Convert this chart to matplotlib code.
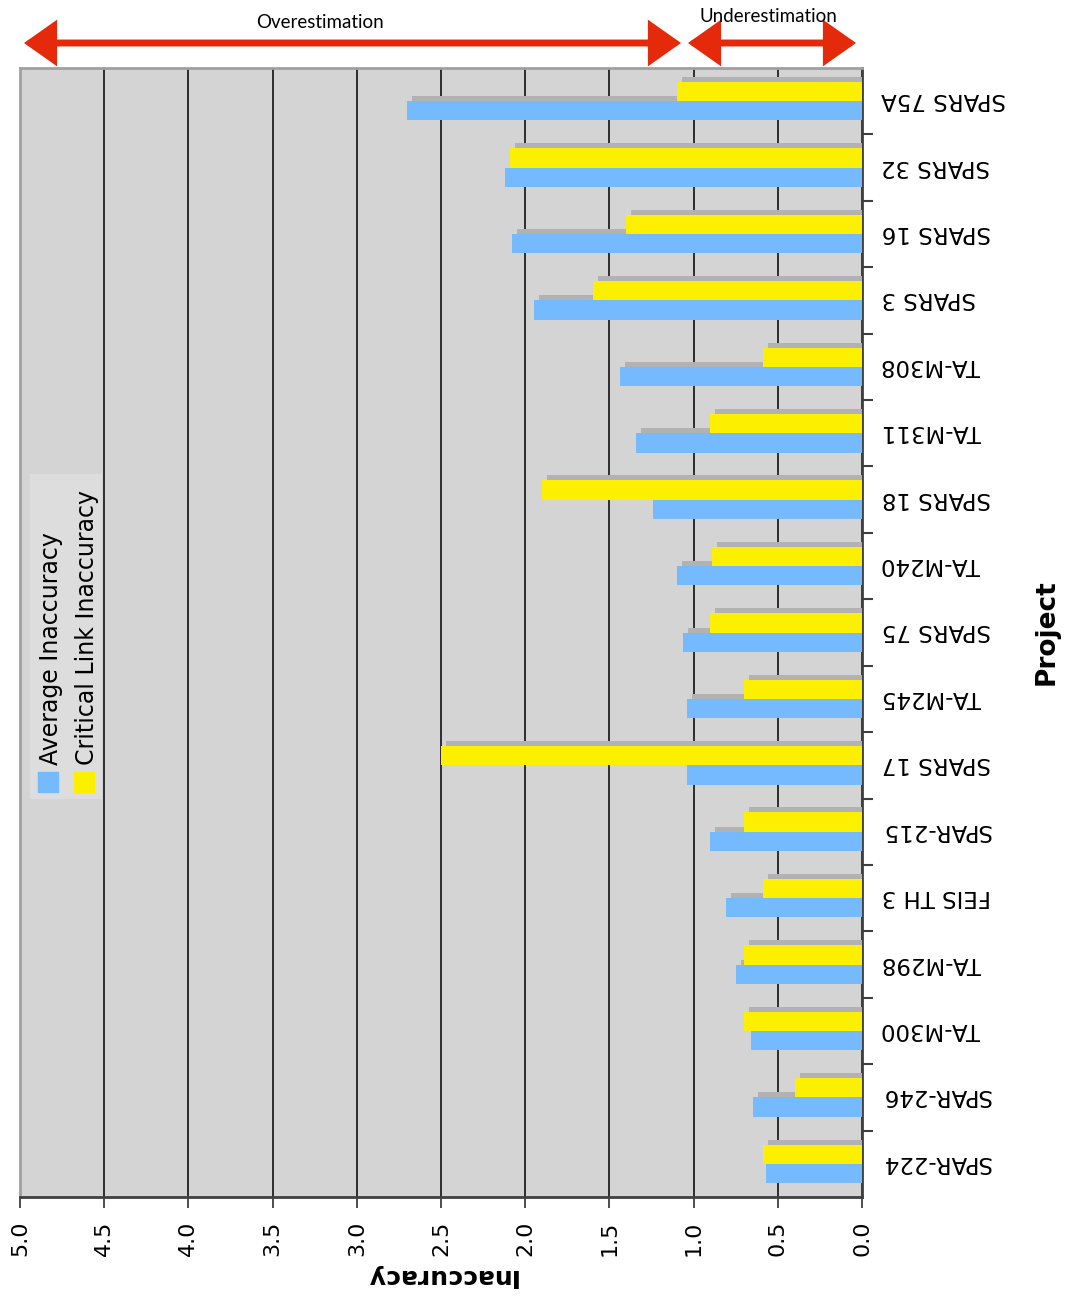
import matplotlib.pyplot as plt
import matplotlib.patches as mpatches
import matplotlib.patheffects as pe
import matplotlib.transforms as mtransforms

projects = ['SPARS 75A', 'SPARS 32', 'SPARS 16', 'SPARS 3', 'TA-M308', 'TA-M311',
            'SPARS 18', 'TA-M240', 'SPARS 75', 'TA-M245', 'SPARS 17', 'SPAR-215',
            'FEIS TH 3', 'TA-M298', 'TA-M300', 'SPAR-246', 'SPAR-224']
average = [2.70, 2.12, 2.08, 1.95, 1.44, 1.34, 1.24, 1.10, 1.06, 1.04, 1.04,
           0.90, 0.81, 0.75, 0.66, 0.65, 0.57]
critical = [1.10, 2.09, 1.40, 1.60, 0.59, 0.90, 1.90, 0.89, 0.90, 0.70, 2.50,
            0.70, 0.59, 0.70, 0.70, 0.40, 0.59]

W, H = 1065, 1307
BLUE = '#75baff'
YELLOW = '#fcf000'
RED = '#e52a0b'


def fx(px):
    return px / W


def fy(py):
    return 1 - py / H


fig = plt.figure(figsize=(W / 100, H / 100), dpi=100)
ax = fig.add_axes([fx(20), fy(1197), fx(862 - 20), (1197 - 68) / H])
ax.set_facecolor('#d4d4d4')

shadow = [pe.SimplePatchShadow(offset=(3.6, 3.6), shadow_rgbFace='#b2b2b2', alpha=1.0),
          pe.Normal()]
ypos = list(range(len(projects)))
bh = 0.29
ax.barh([y + bh / 2 for y in ypos], average, height=bh, color=BLUE,
        zorder=3, path_effects=shadow)
ax.barh([y - bh / 2 for y in ypos], critical, height=bh, color=YELLOW,
        zorder=3, path_effects=shadow)

ax.set_xlim(5, 0)
ax.set_ylim(len(projects) - 0.5, -0.5)
ax.set_xticks([i * 0.5 for i in range(11)])
ax.set_xticklabels([f'{i * 0.5:.1f}' for i in range(11)], rotation=90, fontsize=16)
ax.set_yticks([y + 0.5 for y in ypos[:-1]], minor=False)
ax.set_yticks(ypos, minor=True)
ax.set_yticklabels([])
ax.set_yticklabels(projects, minor=True, rotation=180, fontsize=16.5,
                   va='center_baseline')
ax.yaxis.tick_right()
ax.tick_params(axis='y', which='minor', length=0, pad=14)
ax.tick_params(axis='y', which='major', length=8, width=1.5, color='#404040')
ax.tick_params(axis='x', length=8, width=1.2, color='#303030', pad=9)
ax.xaxis.grid(True, color='black', lw=1.1, zorder=1)
ax.set_axisbelow(True)

# nudge the upside-down project names up a little
nudge = mtransforms.ScaledTranslation(0, 0.04, fig.dpi_scale_trans)
for lab in ax.get_yticklabels(minor=True):
    lab.set_transform(lab.get_transform() + nudge)

for s in ['left', 'top']:
    ax.spines[s].set_color('#a0a0a0')
    ax.spines[s].set_linewidth(2)
for s in ['right', 'bottom']:
    ax.spines[s].set_color('#404040')
    ax.spines[s].set_linewidth(2)

ax.set_xlabel('Inaccuracy', rotation=180, fontsize=18, fontweight='bold', labelpad=6)
ax.yaxis.set_label_position('right')
ax.set_ylabel('Project', rotation=90, fontsize=19, fontweight='bold', labelpad=20)

# legend (rotated, drawn by hand)
fig.add_artist(mpatches.Rectangle((fx(30), fy(798)), fx(71), (798 - 474) / H,
                                  transform=fig.transFigure, color='#dddddd', zorder=5))
fig.add_artist(mpatches.Rectangle((fx(38), fy(792)), fx(20), 20 / H,
                                  transform=fig.transFigure, color=BLUE, zorder=6))
fig.add_artist(mpatches.Rectangle((fx(74), fy(792)), fx(20), 20 / H,
                                  transform=fig.transFigure, color=YELLOW, zorder=6))
fig.text(fx(51), fy(765), 'Average Inaccuracy', rotation=90, fontsize=17,
         ha='center', va='bottom', zorder=7)
fig.text(fx(87), fy(765), 'Critical Link Inaccuracy', rotation=90, fontsize=17,
         ha='center', va='bottom', zorder=7)

# over/under estimation arrows
for x0, x1, label, tx, ty in [(24, 681, 'Overestimation', 320, 22),
                              (688, 856, 'Underestimation', 768, 17)]:
    arr = mpatches.FancyArrowPatch((fx(x0), fy(43)), (fx(x1), fy(43)),
                                   transform=fig.transFigure,
                                   arrowstyle='<|-|>,head_length=0.85,head_width=0.6',
                                   mutation_scale=20, lw=5, color=RED,
                                   shrinkA=0, shrinkB=0, joinstyle='miter')
    fig.add_artist(arr)
    fig.text(fx(tx), fy(ty), label, fontsize=13.5, family='Lato',
             ha='center', va='center')

plt.savefig('out.png', dpi=100)
plt.close()
